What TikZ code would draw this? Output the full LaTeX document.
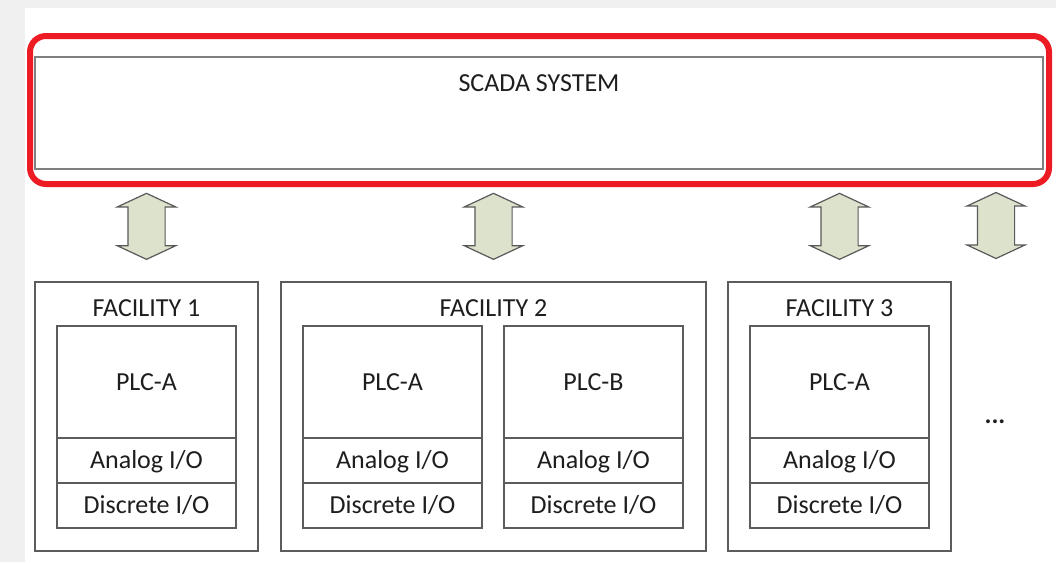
\documentclass[tikz,border=0pt]{standalone}
\usepackage{fontspec}
\setmainfont{Carlito}
\usepackage{xcolor}
\usepackage{tikz}
\usetikzlibrary{shapes.geometric, shapes.arrows, positioning}
\definecolor{scadared}{HTML}{ED1C24}
\definecolor{boxgray}{HTML}{5C5C5C}
\definecolor{framegray}{HTML}{7F7F7F}
\definecolor{arrowfill}{HTML}{DDE2CC}
\definecolor{pagegray}{HTML}{F0F0F0}
\definecolor{inkgray}{HTML}{1E1E1E}
\tikzstyle{facility} = [rectangle, draw=boxgray, line width=1.5pt, minimum width=223pt, minimum height=269pt, inner sep=0pt, outer sep=0pt]
\tikzstyle{plc} = [rectangle, draw=boxgray, line width=1.5pt, minimum width=179pt, minimum height=112pt, inner sep=0pt, outer sep=0pt]
\tikzstyle{io} = [rectangle, draw=boxgray, line width=1.5pt, minimum width=179pt, minimum height=45pt, inner sep=0pt, outer sep=0pt, text depth=2pt]
\tikzstyle{link} = [double arrow, draw=black!65, fill=arrowfill, line width=1.2pt, minimum width=56pt, minimum height=66pt, double arrow head extend=10.5pt, double arrow tip angle=130, shape border rotate=90, inner sep=18pt]
\tikzstyle{title} = [anchor=north, yshift=-14pt]

\begin{document}
\begin{tikzpicture}[x=1pt, y=-1pt, font=\fontsize{26}{31}\selectfont, text=inkgray]
    \useasboundingbox (0,0) rectangle (1056,562);
    \fill[pagegray] (0,0) rectangle (1056,562);
    \fill[white] (25,8) rectangle (1056,562);

    % SCADA level
    \node [rectangle, draw=scadared, line width=6pt, rounded corners=16pt, minimum width=1019pt, minimum height=148pt, inner sep=0pt, outer sep=0pt] (scadaframe) at (539.5,110) {};
    \node [rectangle, draw=framegray, line width=2.5pt, minimum width=1008pt, minimum height=112pt, inner sep=0pt, outer sep=0pt, label={[title]north:SCADA SYSTEM}] (scada) at (539,113) {};

    % Facilities
    \node [facility, label={[title]north:FACILITY 1}] (fac1) at (146.5,416.5) {};
    \node [facility, minimum width=425pt, label={[title]north:FACILITY 2}] (fac2) at (493.5,416.5) {};
    \node [facility, label={[title]north:FACILITY 3}] (fac3) at (839.5,416.5) {};

    % PLC stacks
    \node [plc, anchor=north west] (plcA1) at ([shift={(22,44)}]fac1.north west) {PLC-A};
    \node [io, below=0pt of plcA1] (anA1) {Analog I/O};
    \node [io, below=0pt of anA1] (diA1) {Discrete I/O};

    \node [plc, anchor=north west] (plcA2) at ([shift={(22,44)}]fac2.north west) {PLC-A};
    \node [io, below=0pt of plcA2] (anA2) {Analog I/O};
    \node [io, below=0pt of anA2] (diA2) {Discrete I/O};
    \node [plc, right=22pt of plcA2] (plcB2) {PLC-B};
    \node [io, below=0pt of plcB2] (anB2) {Analog I/O};
    \node [io, below=0pt of anB2] (diB2) {Discrete I/O};

    \node [plc, anchor=north west] (plcA3) at ([shift={(22,44)}]fac3.north west) {PLC-A};
    \node [io, below=0pt of plcA3] (anA3) {Analog I/O};
    \node [io, below=0pt of anA3] (diA3) {Discrete I/O};

    \node [font=\fontsize{26}{31}\selectfont\bfseries] (more) at (995,422) {...};

    % Links to the SCADA system
    \node [link, above=22pt of fac1] (link1) {};
    \node [link, above=22pt of fac2] (link2) {};
    \node [link, above=22pt of fac3] (link3) {};
    \node [link] (link4) at (996,225.5) {};
\end{tikzpicture}
\end{document}
